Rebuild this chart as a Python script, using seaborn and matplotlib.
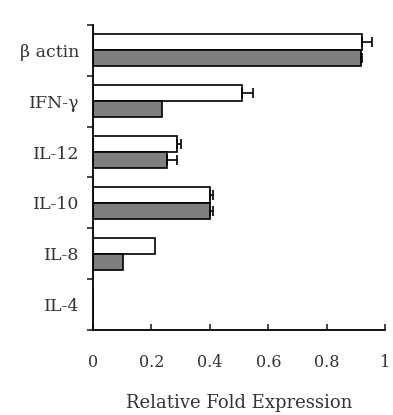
import pandas as pd
import numpy as np
import matplotlib.pyplot as plt
import seaborn as sns

genes = ['β actin', 'IFN-γ', 'IL-12', 'IL-10', 'IL-8', 'IL-4']
white_vals = [0.92, 0.51, 0.287, 0.40, 0.212, 0.0]
white_err = [0.035, 0.037, 0.013, 0.01, 0.0, 0.0]
gray_vals = [0.917, 0.236, 0.253, 0.40, 0.103, 0.0]
gray_err = [0.005, 0.0, 0.034, 0.01, 0.0, 0.0]
series = ['A', 'B']
x_ticks = [0, 0.2, 0.4, 0.6, 0.8, 1.0]
x_labels = ['0', '0.2', '0.4', '0.6', '0.8', '1']

df = pd.DataFrame({
    'Gene': genes * 2,
    'Value': white_vals + gray_vals,
    'Err': white_err + gray_err,
    'Series': [series[0]] * len(genes) + [series[1]] * len(genes),
})

sns.set_style('white')
plt.rcParams['font.family'] = ['DejaVu Serif', 'Liberation Serif']

fig = plt.figure(figsize=(3.93, 4.15), dpi=100)
ax = fig.add_axes([0.2366, 0.2048, 0.7434, 0.735])

sns.barplot(data=df, y='Gene', x='Value', hue='Series', orient='h',
            palette={'A': 'white', 'B': '#7f7f7f'}, width=0.63,
            edgecolor='black', linewidth=1.2, legend=False, ax=ax)

# error bars (plus side only), aligned with the drawn bars
patches = [p for p in ax.patches]
for p, v, e in zip(patches, list(df['Value']), list(df['Err'])):
    if e > 0:
        yc = p.get_y() + p.get_height() / 2
        ax.errorbar(v, yc, xerr=[[0], [e]], fmt='none', ecolor='black',
                    elinewidth=1.2, capsize=3.5, capthick=1.2)

ax.set_xlim(0, 1.0)
ax.set_ylim(len(genes) - 0.5, -0.5)
ax.set_xticks(x_ticks)
ax.set_xticklabels(x_labels)
ax.set_yticks(np.arange(-0.5, len(genes), 1.0), minor=True)
ax.tick_params(axis='y', which='major', length=0, pad=10, labelsize=12.5,
               labelcolor='#333333')
ax.tick_params(axis='y', which='minor', length=4, width=1.2, direction='out', left=True)
ax.tick_params(axis='x', which='major', length=4, width=1.2, direction='in',
               bottom=True, pad=17, labelsize=11.5, labelcolor='#333333')

ax.set_ylabel('')
ax.set_xlabel('Relative Fold Expression', fontsize=13, labelpad=17,
              color='#333333')

for s in ['top', 'right']:
    ax.spines[s].set_visible(False)
for s in ['left', 'bottom']:
    ax.spines[s].set_color('black')
    ax.spines[s].set_linewidth(1.3)

fig.savefig('out.png', dpi=100)
